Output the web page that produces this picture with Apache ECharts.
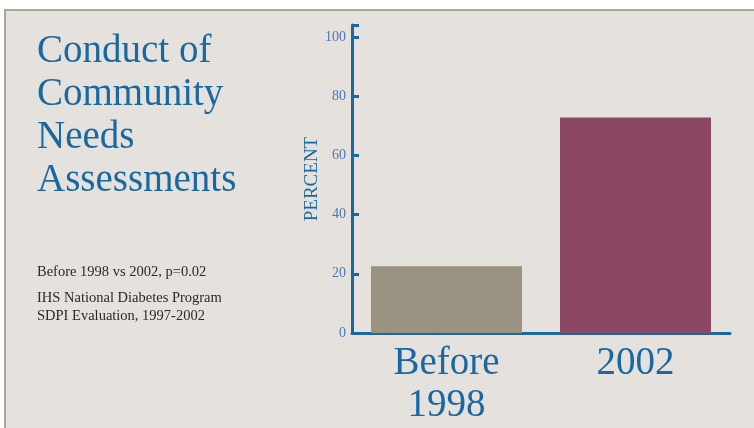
<!DOCTYPE html>
<html>
<head>
<meta charset="utf-8">
<script src="https://cdn.jsdelivr.net/npm/echarts@6/dist/echarts.min.js"></script>
<style>
html,body{margin:0;padding:0;background:#fff;}
#bg{position:absolute;left:4px;top:9px;width:750px;height:419px;background:#e5e2de;border-top:2px solid #aaa69c;border-left:2px solid #aaa69c;box-sizing:border-box;}
#bar{position:absolute;left:0;top:0;width:754px;height:428px;}
</style>
</head>
<body>
<div id="bg"></div>
<div id="bar"></div>
<script>
var categories = ['Before\n1998', '2002'];
var values = [22.5, 72.8];
var barColors = ['#9a9381', '#8c4764'];
var yTicks = [0, 20, 40, 60, 80, 100, 104];
var yLabels = [0, 20, 40, 60, 80, 100];
var notes = ['Before 1998 vs 2002, p=0.02', 'IHS National Diabetes Program', 'SDPI Evaluation, 1997-2002'];

var blue = '#1a68a2';
var serif = 'Liberation Serif';

var mychart = echarts.init(document.getElementById('bar'));
var data = [];
for (var i = 0; i < values.length; i++) {
    data.push({
        value: values[i],
        itemStyle: { color: barColors[i] }
    });
}
option = {
    backgroundColor: 'transparent',
    title: {
        text: 'Conduct of\nCommunity\nNeeds\nAssessments',
        left: 37,
        top: 30,
        padding: 0,
        textStyle: {
            fontFamily: serif,
            fontWeight: 'normal',
            fontSize: 39,
            lineHeight: 43,
            color: blue
        }
    },
    graphic: [
        { type: 'text', left: 37, top: 265, style: { text: notes[0], font: '14.5px ' + serif, fill: '#2a2a2a' } },
        { type: 'text', left: 37, top: 291, style: { text: notes[1], font: '14.5px ' + serif, fill: '#2a2a2a' } },
        { type: 'text', left: 37, top: 309, style: { text: notes[2], font: '14.5px ' + serif, fill: '#2a2a2a' } }
    ],
    grid: {
        left: 352,
        right: 24,
        top: 25,
        bottom: 95
    },
    xAxis: {
        type: 'category',
        data: categories,
        axisLine: { lineStyle: { color: blue, width: 3 } },
        axisTick: { inside: true, length: 5, lineStyle: { color: blue, width: 3 } },
        axisLabel: {
            margin: 10,
            fontFamily: serif,
            fontSize: 39,
            lineHeight: 42,
            color: blue
        }
    },
    yAxis: {
        type: 'value',
        min: 0,
        max: 104,
        interval: 20,
        name: 'PERCENT',
        nameLocation: 'middle',
        nameGap: 30,
        nameMoveOverlap: false,
        nameTextStyle: { fontFamily: serif, fontSize: 19, color: blue },
        splitLine: { show: false },
        axisLine: { show: true, lineStyle: { color: blue, width: 3 } },
        axisTick: { show: true, inside: true, length: 7, customValues: yTicks, lineStyle: { color: blue, width: 3 } },
        axisLabel: {
            customValues: yLabels,
            margin: 6,
            fontFamily: serif,
            fontSize: 14,
            color: '#4a78b0'
        }
    },
    series: [
        {
            type: 'bar',
            data: data,
            barWidth: 151,
            animation: false
        }
    ]
};
mychart.setOption(option);
</script>
</body>
</html>
